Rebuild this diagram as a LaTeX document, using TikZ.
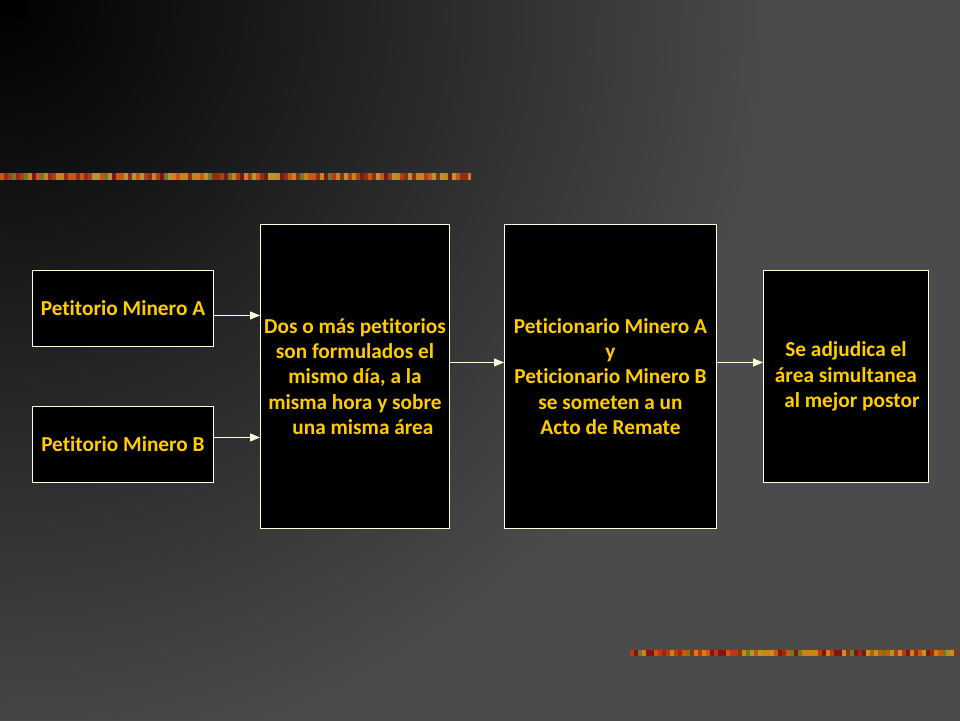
\documentclass[tikz,border=0pt]{standalone}
\usepackage{fontspec}
\setmainfont{Carlito}[RawFeature={-liga;-clig;-dlig}]
\usetikzlibrary{arrows.meta}
\definecolor{bggray}{RGB}{75,75,75}
\definecolor{txtyellow}{RGB}{255,204,0}
\definecolor{cream}{RGB}{255,255,220}
\definecolor{dA}{RGB}{205,130,25}
\definecolor{dB}{RGB}{150,45,12}
\definecolor{dC}{RGB}{115,120,35}
\definecolor{dD}{RGB}{210,85,15}
\definecolor{dE}{RGB}{185,150,45}
\definecolor{dF}{RGB}{125,25,10}
\definecolor{dG}{RGB}{180,60,20}
\tikzset{
  box/.style={draw=cream, line width=0.9pt, fill=black, text=txtyellow,
    font=\fontsize{21.3pt}{25.4pt}\selectfont\bfseries, align=center,
    inner sep=0pt, anchor=north west},
  arr/.style={draw=cream, line width=0.9pt, -{Triangle[length=10pt,width=8pt]}}
}
\newcommand{\pickcol}[1]{%
  \ifcase#1 \def\cc{dA}\or \def\cc{dB}\or \def\cc{dC}\or \def\cc{dD}\or \def\cc{dE}\or \def\cc{dF}\else \def\cc{dG}\fi}
\begin{document}
\begin{tikzpicture}[x=1pt,y=-1pt]
\useasboundingbox (0,0) rectangle (960,720);
% background
\fill[bggray] (-10,-10) rectangle (970,730);
\begin{scope}
\clip (-10,-10) rectangle (970,730);
\shade[inner color=black, outer color=bggray] (-780,-780) rectangle (780,780);
\end{scope}
\fill[bggray] (780,-10) rectangle (970,730);
\fill[bggray] (-10,720) rectangle (970,730);
\fill[black] (0,0) rectangle (26,20);
% decorative bars
\pgfmathsetseed{11}
\foreach \i in {0,4,...,468} {
  \pgfmathtruncatemacro{\m}{random(0,6)}
  \pickcol{\m}
  \fill[\cc] (\i,173) rectangle ({min(\i+4,471)},180);
}
\foreach \i in {630,634,...,956} {
  \pgfmathtruncatemacro{\m}{random(0,6)}
  \pickcol{\m}
  \fill[\cc] (\i,650) rectangle (\i+4,656);
}
% boxes
\node[box, minimum width=181pt, minimum height=76pt] (a) at (32,270) {Petitorio Minero A};
\node[box, minimum width=181pt, minimum height=76pt] (b) at (32,406) {Petitorio Minero B};
\node[box, minimum width=189pt, minimum height=304pt] (m1) at (260,224)
  {Dos o más petitorios\\son formulados el\\mismo día, a la\\misma hora y sobre\\\hspace*{16pt}una misma área};
\node[box, minimum width=212pt, minimum height=304pt] (m2) at (504,224)
  {Peticionario Minero A\\y\\Peticionario Minero B\\se someten a un\\Acto de Remate};
\node[box, minimum width=165pt, minimum height=212pt] (r) at (763,270)
  {Se adjudica el\\área simultanea\\\hspace*{12pt}al mejor postor};
% arrows
\draw[arr] ([yshift=-7pt]a.east) -- ([yshift=-7pt]a.east -| m1.west);
\draw[arr] ([yshift=7pt]b.east) -- ([yshift=7pt]b.east -| m1.west);
\draw[arr] ([yshift=14pt]m1.east) -- ([yshift=14pt]m1.east -| m2.west);
\draw[arr] ([yshift=14pt]m2.east) -- ([yshift=14pt]m2.east -| r.west);
\end{tikzpicture}
\end{document}
